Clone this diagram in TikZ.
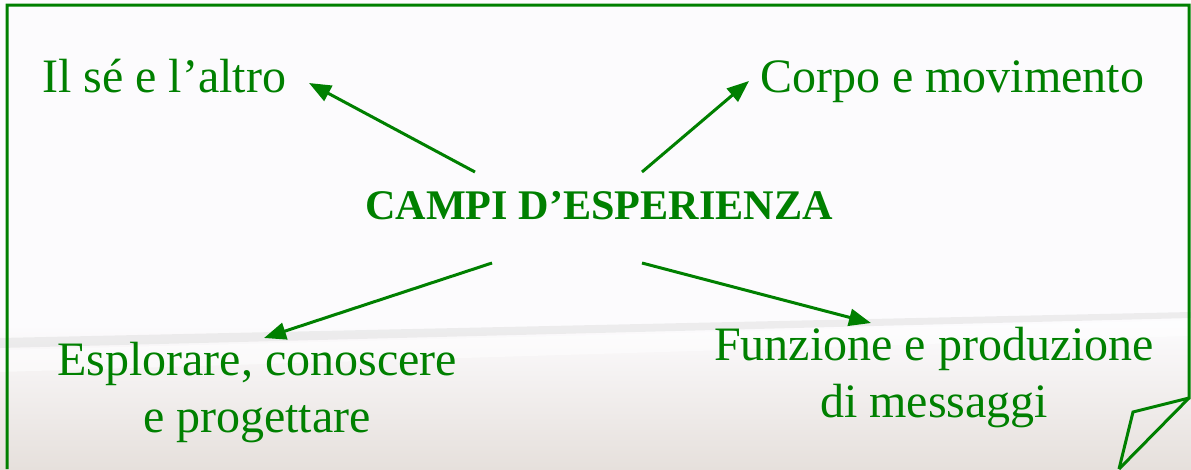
\documentclass[tikz,border=0pt]{standalone}
\usepackage{fontspec}
\setmainfont{Liberation Serif}
\usetikzlibrary{arrows.meta}
\definecolor{dkgreen}{HTML}{008000}
\definecolor{bgpale}{HTML}{FCFBFD}
\definecolor{photo}{HTML}{E6E0DC}
\begin{document}
\begin{tikzpicture}[x=1pt,y=-1pt,
  lbl/.style={text=dkgreen,font=\fontsize{48}{57}\selectfont,inner sep=0pt,align=center},
  arr/.style={draw=dkgreen,line width=3pt,-{Triangle[length=22pt,width=17pt]}},
  frame/.style={draw=dkgreen,line width=3pt,line join=miter}]
\fill[bgpale] (0,0) rectangle (1191,469);
\useasboundingbox (0,0) rectangle (1191,469);
% faint background photo
\shade[top color=bgpale, bottom color=photo] (0,325) rectangle (1191,469);
\fill[gray!25,opacity=0.5] (0,338) -- (1191,312) -- (1191,318) -- (0,348) -- cycle;
\fill[white,opacity=0.5] (0,350) -- (1191,320) -- (1191,336) -- (0,372) -- cycle;
% frame with folded corner
\draw[frame] (7,469) -- (7,5) -- (1189,5) -- (1189,398) -- (1133,412) -- (1119,469);
\draw[frame] (1189,398) -- (1119,469);
% texts
\node[lbl,anchor=base west] (il) at (42,92) {Il sé e l’altro};
\node[lbl,anchor=base west] (corpo) at (760,92) {Corpo e movimento};
\node[lbl,anchor=base,font=\fontsize{42.2}{50}\selectfont\bfseries] (campi) at (599,219) {CAMPI D’ESPERIENZA};
\node[lbl,anchor=base] (espl) at (257,432) {Esplorare, conoscere\\e progettare};
\node[lbl,anchor=base] (funz) at (934,417) {Funzione e produzione\\di messaggi};
% arrow end points
\coordinate (s1) at (475,172); \coordinate (e1) at (309,83);
\coordinate (s2) at (642,172); \coordinate (e2) at (749,81);
\coordinate (s3) at (492,263); \coordinate (e3) at (264,338);
\coordinate (s4) at (642,263); \coordinate (e4) at (871,323);
\draw[arr] (s1) -- (e1);
\draw[arr] (s2) -- (e2);
\draw[arr] (s3) -- (e3);
\draw[arr] (s4) -- (e4);
\end{tikzpicture}
\end{document}
